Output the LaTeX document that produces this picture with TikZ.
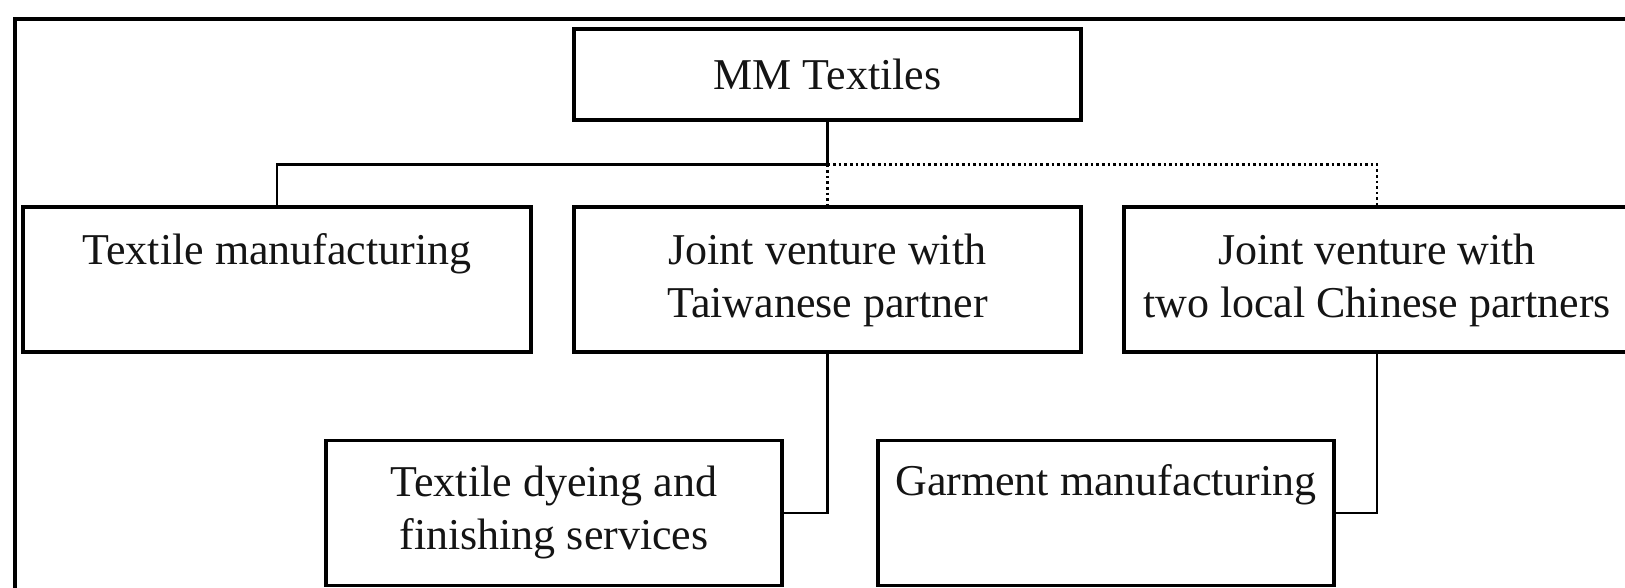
\documentclass[tikz,border=0pt]{standalone}
\usepackage{fontspec}
\setmainfont{Liberation Serif}
\usetikzlibrary{calc}
\begin{document}
\begin{tikzpicture}[x=1pt,y=-1pt,
  unit/.style={draw, line width=3.2pt, rectangle, inner sep=0pt, minimum height=145pt},
  caption/.style={font=\fontsize{44}{53}\selectfont, align=center, anchor=base, inner sep=0pt, text=black!92},
  link/.style={line width=2.8pt},
  dotlink/.style={line width=2.8pt, dash pattern=on 2.6pt off 3pt},
  frameline/.style={line width=3.4pt},
]
\useasboundingbox (0,0) rectangle (1625,588);
\begin{scope}
\clip (0,0) rectangle (1625,588);
% outer frame, running past the right and bottom edges
\draw[frameline] (15,600) -- (15,19) -- (1640,19);

% boxes
\node[unit, minimum width=507pt, minimum height=91pt] (mm) at (827.5,74.5) {};
\node[unit, minimum width=508pt] (tm)  at (277,279.5) {};
\node[unit, minimum width=507pt] (jvt) at (827.5,279.5) {};
\node[unit, minimum width=506pt] (jvc) at (1377,279.5) {};
\node[unit, minimum width=456pt] (dye) at (554,513) {};
\node[unit, minimum width=456pt] (gar) at (1106,513) {};

% box texts (base = baseline of the last line)
\node[caption] (mmT)  at ($(mm.north)+(0,62)$)   {MM Textiles};
\node[caption] (tmT)  at ($(tm.north)+(0,59)$)   {Textile manufacturing};
\node[caption] (jvtT) at ($(jvt.north)+(0,112)$) {Joint venture with\\Taiwanese partner};
\node[caption] (jvcT) at ($(jvc.north)+(0,112)$) {Joint venture with\\two local Chinese partners};
\node[caption] (dyeT) at ($(dye.north)+(0,111)$) {Textile dyeing and\\finishing services};
\node[caption] (garT) at ($(gar.north)+(0,57)$)  {Garment manufacturing};

% connectors
\coordinate (hub) at ($(mm.south)+(0,43)$);
\draw[link] (mm.south) -- (hub) -| (tm.north);
\draw[dotlink] (hub) -- (jvt.north);
\draw[dotlink] (hub) -| (jvc.north);
\draw[link] (jvt.south) |- (dye.east);
\draw[link] (jvc.south) |- (gar.east);
\end{scope}
\end{tikzpicture}
\end{document}
